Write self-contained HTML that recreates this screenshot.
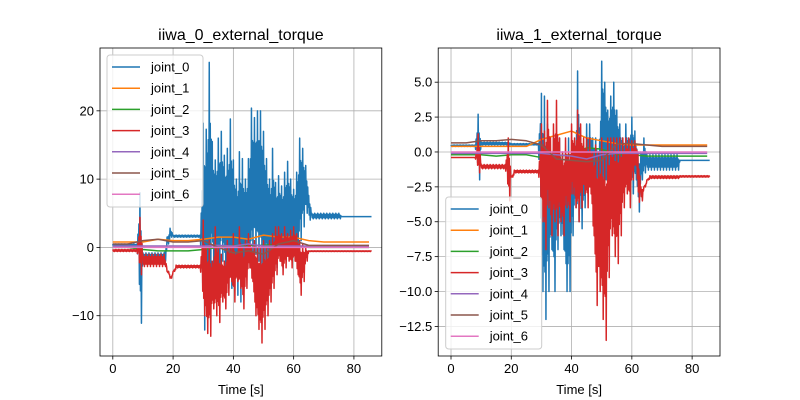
<!DOCTYPE html>
<html><head><meta charset="utf-8"><style>
body{margin:0;background:#fff}
svg{display:block;font-family:"Liberation Sans","DejaVu Sans",sans-serif}
</style></head><body>
<svg id="fig" width="800" height="400" xmlns="http://www.w3.org/2000/svg"></svg>
<script>
const colors=['#1f77b4','#ff7f0e','#2ca02c','#d62728','#9467bd','#8c564b','#e377c2'];
const names=['joint_0','joint_1','joint_2','joint_3','joint_4','joint_5','joint_6'];
const xTicks=[0,20,40,60,80];
const leftYTicks=[-10,0,10,20];
const rightYTicks=[-12.5,-10,-7.5,-5,-2.5,0,2.5,5];
// per-second envelope (t=0..85) hi/lo values
const L0hi=[0.5,0.5,0.5,0.5,0.5,0.5,0.5,0.5,0.5,8,-0.8,-0.8,-0.8,-0.8,-0.8,-0.8,-0.8,-0.8,1.5,2.8,1.8,1.8,1.8,1.8,1.8,1.8,1.8,1.8,1.8,1.8,18.2,17.3,27.1,15.5,12.8,16,17,13.5,14.5,18.8,12.8,10,14,13,10,13,20.4,19,20,20,17,13,10,14.5,9.5,10.5,9,11,12.6,10,8.5,11,16,14.5,12,7.6,5,5,5,5,5,5,5,5,5,5,4.5,4.5,4.5,4.5,4.5,4.5,4.5,4.5,4.5,4.5];
const L0lo=[0.1,0.1,0.1,0.1,0.1,0.1,0.1,0.1,0.1,-11.1,-2,-2,-2,-2,-2,-2,-2,-2,0.5,1.5,1.5,1.5,1.5,1.5,1.5,1.5,1.5,1.5,1.5,1.5,-12.1,-10,-6,-3,-2,-4,-2,-4,-6,-6,-3,-7,-8,-6,-3,-2,-2,-1,-2,-3,-4,-3,-6,-4,-3,-1,-3,-2,-1,0,-1,-1,1,3,5,4,4.2,4.2,4.2,4.2,4.2,4.2,4.2,4.2,4.2,4.2,4.5,4.5,4.5,4.5,4.5,4.5,4.5,4.5,4.5,4.5];
const L3hi=[-0.3,-0.3,-0.3,-0.3,-0.3,-0.3,-0.3,-0.3,-0.3,4.4,-1,-1,-1,-1,-1,-1,-1,-1,-3.5,-4.5,-3.5,-2.6,-2.6,-2.6,-2.6,-2.6,-2.6,-2.6,-2.6,-2.6,4,0,1,-2,3,0,-1,-2,1,0,2,-1,3,0,1,2,0,1,0,0,1,0,1,2,3,3,2,3,2,2.5,3,2,1,0.5,0,-0.5,-0.5,-0.5,-0.5,-0.5,-0.5,-0.5,-0.5,-0.5,-0.5,-0.5,-0.5,-0.5,-0.5,-0.5,-0.5,-0.5,-0.5,-0.5,-0.5,-0.5];
const L3lo=[-0.6,-0.6,-0.6,-0.6,-0.6,-0.6,-0.6,-0.6,-0.6,-4,-2.8,-2.8,-2.8,-2.8,-2.8,-2.8,-2.8,-2.8,-3.5,-4.5,-3.5,-3,-3,-3,-3,-3,-3,-3,-3,-3,-10,-12.6,-13,-9,-10,-11,-8,-9,-7,-5,-8,-5,-6,-9,-6,-3,-5,-10,-12,-14,-12,-10,-8,-6,-4,-2,-4,-3,-2,-3,-2,-4,-7,-5,-2,-0.6,-0.6,-0.6,-0.6,-0.6,-0.6,-0.6,-0.6,-0.6,-0.6,-0.6,-0.6,-0.6,-0.6,-0.6,-0.6,-0.6,-0.6,-0.6,-0.6,-0.6];
const R0hi=[0.5,0.5,0.5,0.5,0.5,0.5,0.5,0.5,0.5,2.7,0.7,0.7,0.7,0.7,0.7,0.7,0.7,0.7,0.7,0.7,0.6,0.6,0.6,0.6,0.6,0.6,0.6,0.6,0.6,0.6,4.2,4,2,0,1,0,1,0,0,1,0,0,5.8,1,0,2,2,1,1,0,6.5,5,3,4,5,3,2,1,2,1,2.5,1.5,0,0,1,-0.2,-0.2,-0.2,-0.2,-0.2,-0.2,-0.2,-0.2,-0.2,-0.2,-0.2,-0.6,-0.6,-0.6,-0.6,-0.6,-0.6,-0.6,-0.6,-0.6,-0.6];
const R0lo=[0.4,0.4,0.4,0.4,0.4,0.4,0.4,0.4,0.4,-2,0.5,0.5,0.5,0.5,0.5,0.5,0.5,0.5,0.5,0.5,0.5,0.5,0.5,0.5,0.5,0.5,0.5,0.5,0.5,0.5,-10,-12,-10,-7,-10,-7,-6,-7,-10,-10,-6,-4,-5,-5.5,-4,-3,-2,-3,-2,-2,-2,-2,-2,-2,-3,-2,-2,-3,-2,-1,-3,-2,-4.3,-2,-1.5,-1.3,-1.3,-1.3,-1.3,-1.3,-1.3,-1.3,-1.3,-1.3,-1.3,-1.3,-0.6,-0.6,-0.6,-0.6,-0.6,-0.6,-0.6,-0.6,-0.6,-0.6];
const R3hi=[-0.4,-0.4,-0.4,-0.4,-0.4,-0.4,-0.4,-0.4,-0.4,1.3,-0.9,-0.9,-0.9,-0.9,-0.9,-0.9,-0.9,-0.9,-0.9,1,-1.8,-1.3,-1.3,-1.3,-1.3,-1.3,-1.3,-1.3,-1.3,-1.3,2,1.5,3.7,1,2,3.7,1,0,1,0,2,1,3,2,1,1,1,0,0.5,0,1,0,1,1,1,1,1,1,1,1,0.8,0.8,0,-2.5,-2.5,-2,-1.7,-1.7,-1.7,-1.7,-1.7,-1.7,-1.7,-1.7,-1.7,-1.7,-1.7,-1.7,-1.7,-1.7,-1.7,-1.7,-1.7,-1.7,-1.7,-1.7];
const R3lo=[-0.4,-0.4,-0.4,-0.4,-0.4,-0.4,-0.4,-0.4,-0.4,-1.5,-1.2,-1.2,-1.2,-1.2,-1.2,-1.2,-1.2,-1.2,-1.2,-3.5,-1.8,-1.5,-1.5,-1.5,-1.5,-1.5,-1.5,-1.5,-1.5,-1.5,-5,-7,-4,-6,-5,-6,-5,-6,-4,-5,-3,-4,-5,-4,-3,-4,-3,-6,-11,-10,-12,-13.5,-9,-6,-7.5,-8,-6,-4,-3,-4,-2,-1,-3.6,-3.5,-2.5,-2,-1.9,-1.9,-1.9,-1.9,-1.9,-1.9,-1.9,-1.9,-1.9,-1.9,-1.8,-1.8,-1.8,-1.8,-1.8,-1.8,-1.8,-1.8,-1.8,-1.8];
// coarse series every 5 s (t=0..85)
const L1=[0.8,0.8,0.8,1.2,1.0,1.0,1.2,1.5,1.5,1.2,1.8,1.5,1.5,1.0,0.8,0.8,0.8,0.8];
const L2=[0,0,-0.3,-0.5,-0.5,-0.5,-0.3,0,0.3,0.3,0.3,0.5,0.3,0,0,0,0,0];
const L4=[0.2,0.2,0.2,0.2,0.2,0.2,0.2,0.3,0.2,0.5,0.2,0.2,0.2,0.2,0.2,0.2,0.2,0.2];
const L5=[0.5,0.5,1.0,1.2,0.8,0.8,1.0,0.0,-0.8,-0.5,-1.0,0.5,1.0,0.3,0.3,0.3,0.3,0.3];
const L6=[0,0,0,0,0,0,0,0,0,0,0,0,0,0,0,0,0,0];
const R1=[0.4,0.4,0.4,0.4,0.4,0.4,0.9,1.2,1.5,1.0,0.8,0.6,0.5,0.5,0.5,0.5,0.5,0.5];
const R2=[-0.2,-0.2,-0.2,-0.3,-0.2,-0.2,-0.4,-0.3,-0.2,0.3,0.2,-0.2,-0.2,-0.3,-0.3,-0.3,-0.3,-0.3];
const R4=[-0.1,-0.1,-0.1,-0.1,-0.1,-0.1,-0.1,-0.2,-0.3,-0.5,-0.2,-0.1,-0.1,-0.1,-0.1,-0.1,-0.1,-0.1];
const R5=[0.65,0.65,0.8,0.8,0.9,0.8,0.5,-0.5,-0.6,-0.7,-0.6,0.6,0.6,0.5,0.4,0.4,0.4,0.4];
const R6=[0,0,0,0,0,0,0,0,0,0,0,0,0,0,0,0,0,0];

const svg=document.getElementById('fig');
const NS='http://www.w3.org/2000/svg';
function mk(tag,attrs,parent){const e=document.createElementNS(NS,tag);for(const k in attrs)e.setAttribute(k,attrs[k]);(parent||svg).appendChild(e);return e;}

function panel(id,x0,w,ymin,ymax,yTicks,fmt,title,env,coarse,leg){
  const top=48,h=308;
  const g=mk('g',{});
  
  
  const xs=t=>x0+(t+4.25)/93.5*w;
  const ys=v=>top+(ymax-v)/(ymax-ymin)*h;
  mk('rect',{x:x0,y:top,width:w,height:h,fill:'#fff'},g);
  const clip=mk('clipPath',{id:'c'+id},g);mk('rect',{x:x0,y:top,width:w,height:h},clip);
  xTicks.forEach(t=>{const X=xs(t);
    const l=mk('line',{x1:X,x2:X,y1:top,y2:top+h,stroke:'#b0b0b0','stroke-width':0.8},g);
    
    mk('line',{x1:X,x2:X,y1:top+h,y2:top+h+3.5,stroke:'#000','stroke-width':0.8},g);
    const tx=mk('text',{x:X,y:top+h+17,'font-size':13,'text-anchor':'middle'},g);tx.textContent=t;
    });
  yTicks.forEach(v=>{const Y=ys(v);
    const l=mk('line',{x1:x0,x2:x0+w,y1:Y,y2:Y,stroke:'#b0b0b0','stroke-width':0.8},g);
    
    mk('line',{x1:x0-3.5,x2:x0,y1:Y,y2:Y,stroke:'#000','stroke-width':0.8},g);
    const tx=mk('text',{x:x0-6,y:Y+4.5,'font-size':13,'text-anchor':'end'},g);tx.textContent=fmt(v);
    });
  const series=[];
  series[0]=env[0];series[3]=env[1];
  [1,2,4,5,6].forEach((j,i)=>series[j]={c:coarse[i]});
  const dg=mk('g',{'clip-path':'url(#c'+id+')'},g);
  const K=3;
  for(let j=0;j<7;j++){
    const s=series[j];let pts=[];
    if(s.hi){const n=s.hi.length;
      for(let t=0;t<n;t++){const t2=Math.min(t+1,n-1);
        for(let k=0;k<K;k++){
          const f=k/K, f2=(k+0.5)/K;
          const mid=(s.hi[t]+s.lo[t])/2, mid2=(s.hi[t2]+s.lo[t2])/2;
          // vary spike heights within the bin between the bin extreme and the blended level
          const h1=k===0?s.hi[t]:(s.hi[t]*(1-f)+s.hi[t2]*f)*0.6+mid*0.4;
          const l1=k===1?s.lo[t]:(s.lo[t]*(1-f2)+s.lo[t2]*f2)*0.6+mid*0.4;
          pts.push(xs(t+f)+','+ys(h1));pts.push(xs(t+f2)+','+ys(l1));}}}
    else{s.c.forEach((v,i)=>pts.push(xs(i*5)+','+ys(v)));}
    const p=mk('polyline',{points:pts.join(' '),fill:'none',stroke:colors[j],'stroke-width':1.5,'stroke-linejoin':'round'},dg);
    
    
  }
  mk('rect',{x:x0,y:top,width:w,height:h,fill:'none',stroke:'#000','stroke-width':0.8},g);
  const tt=mk('text',{x:x0+w/2,y:40,'font-size':16,'text-anchor':'middle'},g);tt.textContent=title;
  
  const xl=mk('text',{x:x0+w/2,y:394,'font-size':13,'text-anchor':'middle'},g);xl.textContent='Time [s]';
  
  const lg=mk('g',{},g);
  
  mk('rect',{x:leg[0],y:leg[1],width:96,height:152,rx:3,fill:'#fff','fill-opacity':0.8,stroke:'#ccc'},lg);
  names.forEach((n,i)=>{const Y=leg[1]+12+i*21.2;
    const e=mk('g',{},lg);
    
    mk('line',{x1:leg[0]+5,x2:leg[0]+33,y1:Y,y2:Y,stroke:colors[i],'stroke-width':1.5},e);
    const t=mk('text',{x:leg[0]+44,y:Y+4.5,'font-size':13},e);t.textContent=n;});
}
panel('left',100,281.8,-15.9,29.2,leftYTicks,v=>v<0?'\u2212'+(-v):String(v),'iiwa_0_external_torque',
  [{hi:L0hi,lo:L0lo},{hi:L3hi,lo:L3lo}],[L1,L2,L4,L5,L6],[107,55]);
panel('right',438.2,281.8,-14.62,7.45,rightYTicks,v=>(v<0?'\u2212':'')+Math.abs(v).toFixed(1),'iiwa_1_external_torque',
  [{hi:R0hi,lo:R0lo},{hi:R3hi,lo:R3lo}],[R1,R2,R4,R5,R6],[445.7,197]);
</script>
</body></html>
